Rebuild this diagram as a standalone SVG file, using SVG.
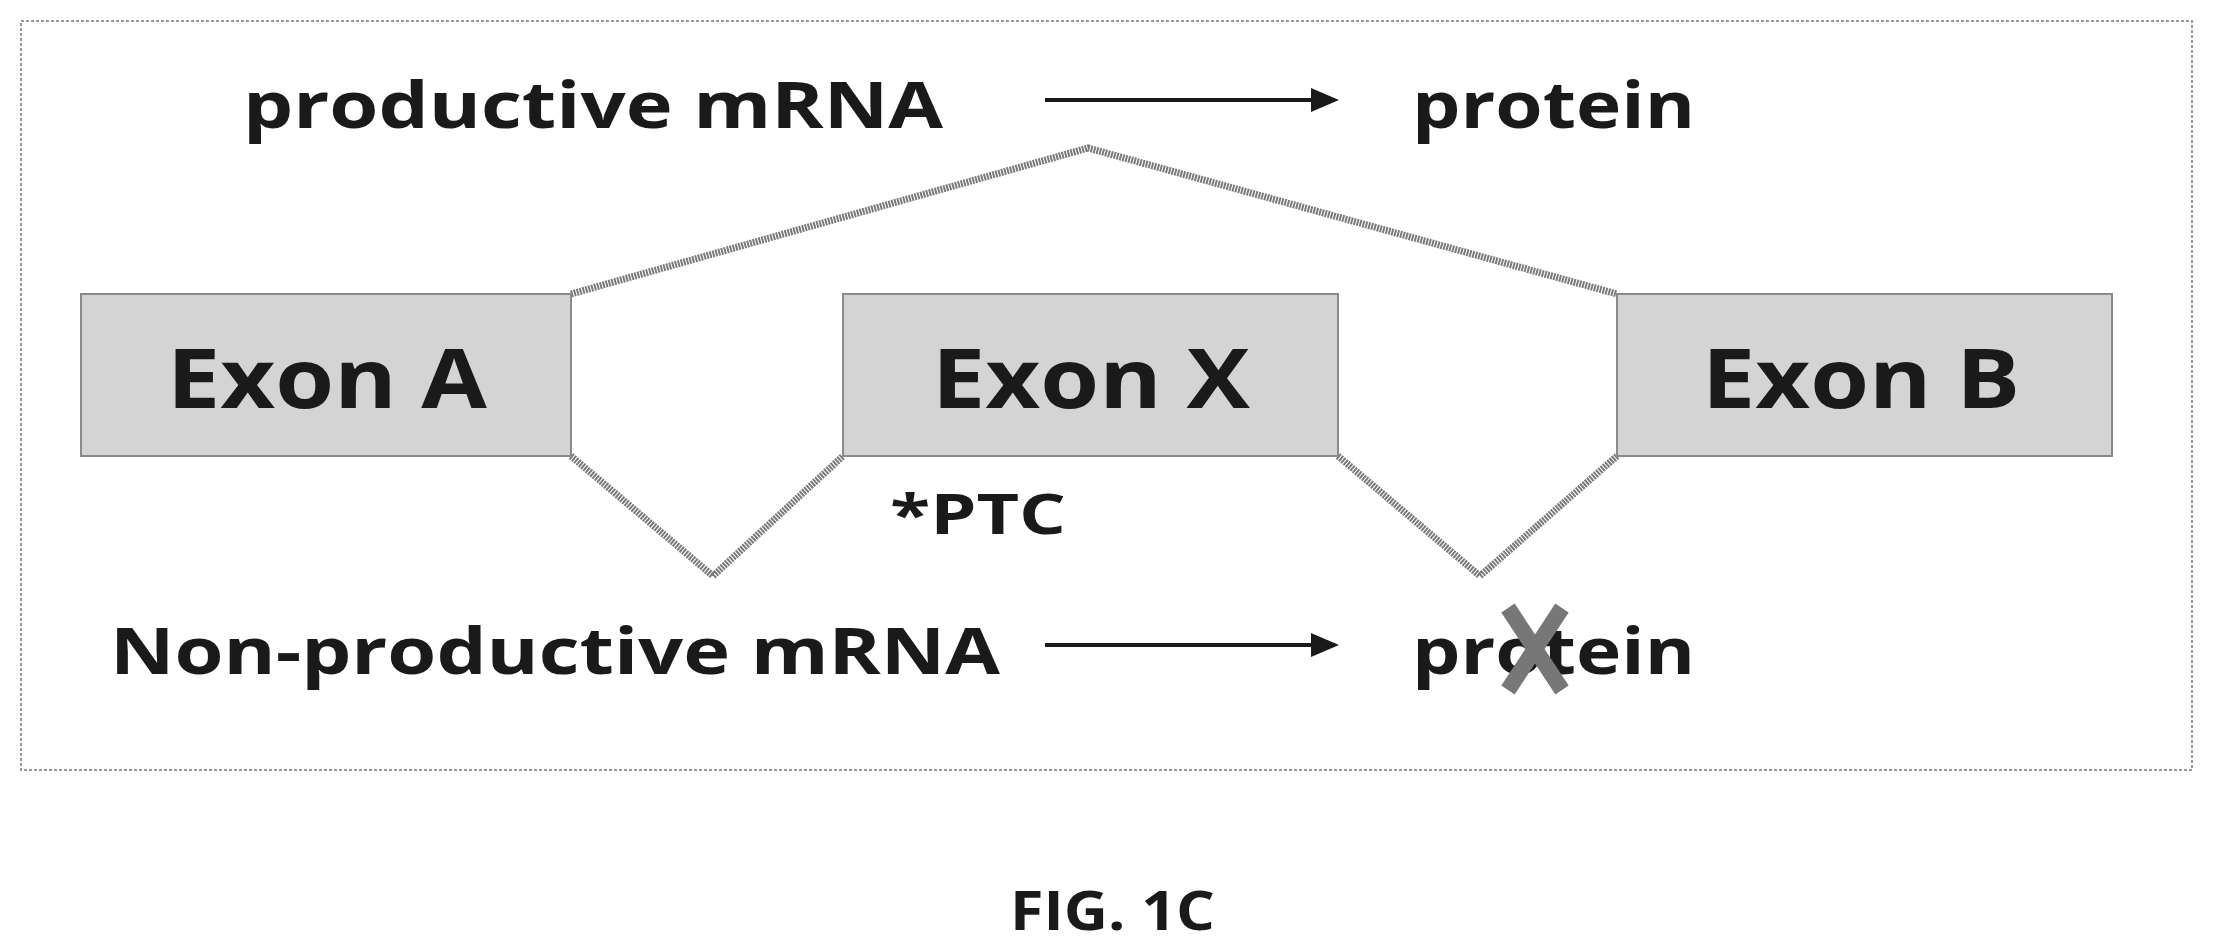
<svg xmlns="http://www.w3.org/2000/svg" width="2215" height="951" viewBox="0 0 2215 951">
<defs>
<style>
.t{font-family:"Open Sans","Liberation Sans",sans-serif;font-weight:bold;fill:#1a1a1a}
.box{fill:#d4d4d4;stroke:#8a8a8a;stroke-width:2}
.sp{fill:none;stroke:#7a7a7a;stroke-width:7;stroke-dasharray:2 1}
.ar{stroke:#1a1a1a;stroke-width:4;marker-end:url(#ah)}
</style>
<marker id="ah" markerWidth="7" markerHeight="6" refX="6" refY="3" orient="auto" markerUnits="strokeWidth"><path d="M0,0L7,3L0,6z" fill="#1a1a1a"/></marker>
</defs>
<rect x="21" y="21" width="2171" height="749" fill="#fff" stroke="#999" stroke-width="2" stroke-dasharray="3 2"/>
<g id="connectors">
<polyline class="sp" points="571,294 1088,148 1617,294"/>
<polyline class="sp" points="571,456 713,576 843,456"/>
<polyline class="sp" points="1338,456 1480,576 1617,456"/>
<line class="ar" x1="1045" y1="100" x2="1335" y2="100"/>
<line class="ar" x1="1045" y1="645" x2="1335" y2="645"/>
</g>
<g id="exonA"><rect class="box" x="81" y="294" width="490" height="162"/><text class="t" x="167" y="408" font-size="82" textLength="320" lengthAdjust="spacingAndGlyphs">Exon A</text></g>
<g id="exonX"><rect class="box" x="843" y="294" width="495" height="162"/><text class="t" x="932" y="408" font-size="82" textLength="318" lengthAdjust="spacingAndGlyphs">Exon X</text></g>
<g id="exonB"><rect class="box" x="1617" y="294" width="495" height="162"/><text class="t" x="1702" y="408" font-size="82" textLength="318" lengthAdjust="spacingAndGlyphs">Exon B</text></g>
<g id="labels">
<text class="t" x="243" y="128" font-size="64" textLength="700" lengthAdjust="spacingAndGlyphs">productive mRNA</text>
<text class="t" x="1412" y="128" font-size="64" textLength="283" lengthAdjust="spacingAndGlyphs">protein</text>
<text class="t" x="890" y="534" font-size="56" textLength="176" lengthAdjust="spacingAndGlyphs">*PTC</text>
<text class="t" x="110" y="674" font-size="64" textLength="890" lengthAdjust="spacingAndGlyphs">Non-productive mRNA</text>
<text class="t" x="1412" y="674" font-size="64" textLength="283" lengthAdjust="spacingAndGlyphs">protein</text>
<g stroke="#777" stroke-width="16"><line x1="1508" y1="608" x2="1562" y2="690"/><line x1="1562" y1="608" x2="1508" y2="690"/></g>
<text class="t" x="1010" y="930" font-size="54" textLength="205" lengthAdjust="spacingAndGlyphs">FIG. 1C</text>
</g>
</svg>
